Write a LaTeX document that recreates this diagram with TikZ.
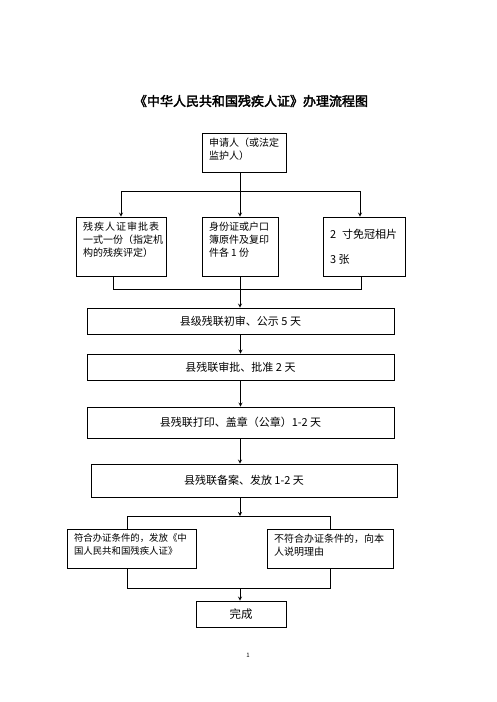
\documentclass[tikz,border=0pt]{standalone}
\usepackage{fontspec}
\setmainfont{Noto Sans CJK SC}[AutoFakeBold=2.5]
\usepackage{tikz}

\begin{document}
\begin{tikzpicture}[x=1pt,y=-1pt]
	\tikzstyle{box} = [rectangle, draw=black, line width=0.8pt, inner sep=0pt, font=\fontsize{10}{13}\selectfont];
	\tikzstyle{step box} = [box, minimum width=307pt, minimum height=26pt, font=\fontsize{11}{13}\selectfont];
	\tikzstyle{top box} = [box, inner xsep=7pt, inner ysep=5pt];
	\useasboundingbox (0,0) rectangle (496,702);
	\node (title) at (251,101) {\fontsize{13}{15}\selectfont\bfseries 《中华人民共和国残疾人证》办理流程图};
	\node (apply) [top box] at (244,152.5) {\parbox[t][29pt][t]{70pt}{申请人（或法定\\监护人）}};
	\node (form) [top box] at (121,246.5) {\parbox[t][49pt][t]{76pt}{\makebox[76pt][s]{残\hfil 疾\hfil 人\hfil 证\hfil 审\hfil 批\hfil 表}\\一式一份（指定机\\构的残疾评定）}};
	\node (idcard) [top box] at (240,246.5) {\parbox[t][49pt][t]{62pt}{身份证或户口\\簿原件及复印\\件各 1 份}};
	\node (photo) [top box] at (364,246.5) {\parbox[t][49pt][t]{68pt}{\fontsize{11}{13}\selectfont\vspace*{7pt}2\hspace{6pt}寸免冠相片\\[12pt]3 张}};
	\node (review) [step box] at (240.5,321) {县级残联初审、公示 5 天};
	\node (approve) [step box] at (240.5,367) {县残联审批、批准 2 天};
	\node (print) [step box, minimum height=31pt] at (240.5,422.5) {县残联打印、盖章（公章）1-2 天};
	\node (issue) [step box, minimum width=306pt, minimum height=33pt] at (244,480.5) {县残联备案、发放 1-2 天};
	\node (yes) [top box] at (131.5,548.5) {\parbox[t][29pt][t]{115pt}{\fontsize{9.4}{13}\selectfont 符合办证条件的，发放《中\\国人民共和国残疾人证》}};
	\node (no) [top box] at (330,548.5) {\parbox[t][29pt][t]{112pt}{不符合办证条件的，向本\\人说明理由}};
	\node (done) [box, minimum width=90pt, minimum height=26pt, font=\fontsize{11.5}{13}\selectfont] at (241,614) {完成};
	\node (page) at (248,655) {\fontsize{6}{6}\selectfont 1};
	\coordinate (split) at (240,191);
	\coordinate (join) at (240,289);
	\coordinate (fork) at (240,516);
	\coordinate (merge) at (240,588);
	\draw [line width=0.8pt,->,>=stealth] (apply.south -| idcard.north) -- (idcard.north);
	\draw [line width=0.8pt,->,>=stealth] (form.north |- split) -- (form.north);
	\draw [line width=0.8pt,->,>=stealth] (form.north |- split) -- ([xshift=-4pt]photo.north |- split) -- ([xshift=-4pt]photo.north);
	\draw [line width=0.8pt] ([xshift=-8pt]form.south) -- ([xshift=-8pt]form.south |- join) -- ([xshift=-3pt]photo.south |- join) -- ([xshift=-3pt]photo.south);
	\draw [line width=0.8pt] (idcard.south) -- (join);
	\draw [line width=0.8pt,->,>=stealth] (join) -- (join |- review.north);
	\draw [line width=0.8pt,->,>=stealth] (review) -- (approve);
	\draw [line width=0.8pt,->,>=stealth] (approve) -- (print);
	\draw [line width=0.8pt,->,>=stealth] (print.south -| join) -- (issue.north -| join);
	\draw [line width=0.8pt,->,>=stealth] (issue.south -| fork) -- (fork);
	\draw [line width=0.8pt] ([xshift=-4.5pt]yes.north) -- ([xshift=-4.5pt]yes.north |- fork) -- (no.north |- fork) -- (no.north);
	\draw [line width=0.8pt] ([xshift=-4.5pt]yes.south) -- ([xshift=-4.5pt]yes.south |- merge) -- (no.south |- merge) -- (no.south);
	\draw [line width=0.8pt,->,>=stealth] (merge) -- (merge |- done.north);
\end{tikzpicture}
\end{document}
